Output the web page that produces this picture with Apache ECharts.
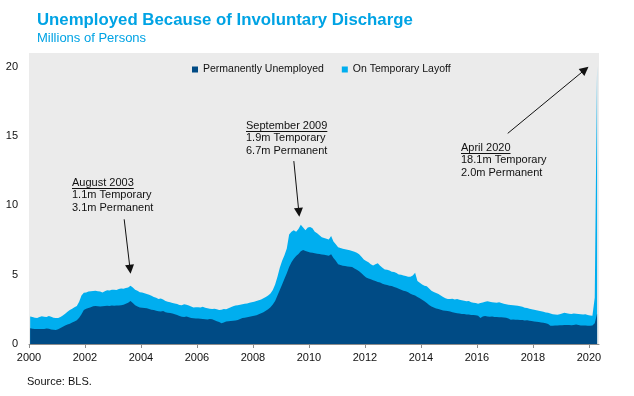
<!DOCTYPE html>
<html>
<head>
<meta charset="utf-8">
<script src="https://cdn.jsdelivr.net/npm/echarts@6/dist/echarts.min.js"></script>
<style>
html, body { margin: 0; padding: 0; background: #fff; }
#chart { width: 634px; height: 396px; }
</style>
</head>
<body>
<div id="chart"></div>
<script>
// monthly, Jan 2000 .. Apr 2020, millions of persons
var startYear = 2000;
var permanent = [
  1.14,1.10,1.09,1.08,1.08,1.09,1.08,1.12,1.10,1.05,1.02,1.01,
  1.07,1.15,1.25,1.33,1.40,1.46,1.55,1.62,1.72,1.90,2.15,2.45,
  2.55,2.60,2.66,2.72,2.75,2.72,2.70,2.73,2.74,2.76,2.75,2.77,
  2.76,2.77,2.78,2.80,2.84,2.90,2.98,3.10,2.95,2.80,2.70,2.64,
  2.62,2.60,2.58,2.52,2.48,2.45,2.40,2.36,2.34,2.38,2.30,2.25,
  2.23,2.20,2.15,2.10,2.02,1.96,1.95,1.98,1.93,1.88,1.85,1.84,
  1.84,1.82,1.80,1.78,1.76,1.80,1.78,1.72,1.65,1.58,1.50,1.55,
  1.62,1.64,1.66,1.68,1.70,1.74,1.80,1.88,1.90,1.93,1.97,2.00,
  2.04,2.08,2.14,2.22,2.30,2.40,2.50,2.66,2.85,3.10,3.50,3.90,
  4.30,4.70,5.10,5.55,5.90,6.15,6.35,6.50,6.70,6.78,6.72,6.65,
  6.60,6.58,6.55,6.52,6.50,6.46,6.44,6.40,6.37,6.48,6.20,6.00,
  5.75,5.70,5.65,5.62,5.60,5.58,5.55,5.45,5.35,5.25,5.10,4.95,
  4.80,4.72,4.68,4.60,4.55,4.48,4.44,4.35,4.30,4.26,4.20,4.18,
  4.12,4.06,3.98,3.92,3.84,3.80,3.74,3.62,3.56,3.50,3.40,3.30,
  3.20,3.08,2.96,2.81,2.71,2.64,2.57,2.52,2.47,2.42,2.40,2.38,
  2.35,2.30,2.26,2.22,2.20,2.16,2.17,2.13,2.12,2.10,2.09,2.07,
  2.04,1.88,1.98,2.02,1.99,1.97,1.99,1.95,1.95,1.93,1.93,1.92,
  1.89,1.84,1.75,1.76,1.75,1.75,1.73,1.73,1.70,1.71,1.68,1.66,
  1.62,1.60,1.58,1.55,1.53,1.50,1.45,1.31,1.31,1.33,1.33,1.36,
  1.36,1.38,1.37,1.38,1.36,1.38,1.40,1.38,1.34,1.33,1.34,1.32,
  1.31,1.33,1.50,2.20
];
var temporary = [
  0.85,0.85,0.81,0.80,0.87,0.91,0.88,0.82,0.92,0.92,0.88,0.86,
  0.80,0.80,0.81,0.85,0.92,0.99,1.00,1.03,1.03,1.15,1.35,1.25,
  1.17,1.18,1.14,1.11,1.09,1.08,1.08,0.99,1.06,1.12,1.11,1.15,
  1.16,1.13,1.19,1.20,1.14,1.14,1.10,1.10,1.13,1.12,1.15,1.10,
  1.10,1.06,1.02,1.03,1.00,0.95,0.93,0.89,0.94,0.84,0.80,0.80,
  0.79,0.76,0.77,0.78,0.80,0.84,0.91,0.86,0.85,0.82,0.79,0.82,
  0.82,0.82,0.88,0.84,0.82,0.75,0.74,0.83,0.85,0.88,0.98,0.97,
  0.88,0.94,1.00,1.04,1.08,1.06,1.04,0.99,1.00,1.00,1.00,1.02,
  1.01,1.02,1.02,1.00,1.00,1.00,1.00,0.99,1.05,1.20,1.35,1.60,
  1.70,1.70,1.80,2.35,2.20,2.05,1.75,1.80,1.90,1.62,1.48,1.75,
  1.85,1.77,1.55,1.48,1.35,1.24,1.21,1.20,1.18,1.32,1.20,1.20,
  1.23,1.22,1.23,1.22,1.20,1.18,1.17,1.20,1.23,1.22,1.20,1.15,
  1.19,1.18,1.07,1.07,1.20,1.34,1.21,1.15,1.08,1.09,1.10,1.04,
  1.08,1.06,1.04,1.08,1.11,1.10,1.11,1.23,1.39,1.64,1.15,1.12,
  1.10,1.12,1.21,1.19,1.14,1.11,1.11,1.08,1.03,0.98,0.90,0.87,
  0.89,0.96,0.96,1.03,1.00,0.99,0.95,0.95,0.98,0.92,0.89,0.88,
  0.87,1.07,1.02,1.03,1.09,1.08,1.03,1.05,1.03,1.09,1.02,0.98,
  0.97,1.00,1.07,1.04,1.03,1.01,0.99,0.95,0.92,0.88,0.87,0.84,
  0.85,0.84,0.82,0.81,0.79,0.78,0.80,0.89,0.84,0.79,0.78,0.79,
  0.84,0.88,0.85,0.80,0.80,0.82,0.78,0.78,0.80,0.79,0.80,0.78,
  0.75,0.71,1.85,17.90
];
var seriesNames = ['Permanently Unemployed', 'On Temporary Layoff'];
var yearTicks = [2000, 2002, 2004, 2006, 2008, 2010, 2012, 2014, 2016, 2018, 2020];
var valueTicks = [0, 5, 10, 15, 20];

var notes = [
  { head: 'August 2003', lines: ['1.1m Temporary', '3.1m Permanent'] },
  { head: 'September 2009', lines: ['1.9m Temporary', '6.7m Permanent'] },
  { head: 'April 2020', lines: ['18.1m Temporary', '2.0m Permanent'] }
];

var darkBlue = '#004B85';
var lightBlue = '#00AEEF';
var titleBlue = '#00A3E4';
var fontName = 'Liberation Sans';

function monthX(i) {
  return startYear + (i + 0.5) / 12;
}

// permanent at the bottom, temporary stacked on top of it
var permPoints = [], stackPoints = [];
for (var i = 0; i < permanent.length; i++) {
  permPoints.push([monthX(i), permanent[i]]);
  stackPoints.push([monthX(i), +(permanent[i] + temporary[i]).toFixed(2)]);
}

var measureCtx = document.createElement('canvas').getContext('2d');
function textWidth(str, size) {
  measureCtx.font = size + 'px "' + fontName + '"';
  return measureCtx.measureText(str).width;
}

// text block with underlined heading
function noteBlock(note, x, y) {
  var els = [];
  var lh = 12.3;
  var all = [note.head].concat(note.lines);
  for (var i = 0; i < all.length; i++) {
    els.push({
      type: 'text', x: x, y: y + i * lh, silent: true,
      style: { text: all[i], fill: '#111', font: '11px "' + fontName + '"',
               textAlign: 'left', textVerticalAlign: 'middle' }
    });
  }
  var uy = Math.round(y + 4.5) + 0.5;
  els.push({
    type: 'line', silent: true,
    shape: { x1: x, y1: uy, x2: x + textWidth(note.head, 11), y2: uy },
    style: { stroke: '#111', lineWidth: 1 }
  });
  return els;
}

var graphics = [
  { type: 'text', x: 37, y: 20, silent: true,
    style: { text: 'Unemployed Because of Involuntary Discharge', fill: titleBlue,
             font: 'bold 16.8px "' + fontName + '"', textVerticalAlign: 'middle' } },
  { type: 'text', x: 37, y: 38, silent: true,
    style: { text: 'Millions of Persons', fill: titleBlue,
             font: '13px "' + fontName + '"', textVerticalAlign: 'middle' } },
  { type: 'text', x: 27, y: 382, silent: true,
    style: { text: 'Source: BLS.', fill: '#111',
             font: '11px "' + fontName + '"', textVerticalAlign: 'middle' } }
]
  .concat(noteBlock(notes[0], 72, 183))
  .concat(noteBlock(notes[1], 246, 126))
  .concat(noteBlock(notes[2], 461, 148));

var chart = echarts.init(document.getElementById('chart'), null, { renderer: 'canvas' });

var option = {
  animation: false,
  textStyle: { fontFamily: fontName },
  grid: {
    left: 29, right: 35, top: 53, bottom: 52,
    show: true, backgroundColor: '#EBEBEB', borderWidth: 0
  },
  legend: {
    left: 187, top: 59,
    itemWidth: 6, itemHeight: 6, itemGap: 18, icon: 'rect',
    textStyle: { fontSize: 10.5, color: '#111', fontFamily: fontName },
    data: seriesNames
  },
  xAxis: {
    type: 'value', min: 2000, max: 2020.36,
    axisLine: { show: true, lineStyle: { color: '#8C8C8C', width: 1 } },
    axisTick: { show: true, length: 4, lineStyle: { color: '#8C8C8C' }, customValues: yearTicks },
    axisLabel: { fontSize: 11, color: '#111', margin: 8, customValues: yearTicks,
                 formatter: function (v) { return String(Math.round(v)); } },
    splitLine: { show: false }
  },
  yAxis: {
    type: 'value', min: 0, max: 21,
    axisLine: { show: false },
    axisTick: { show: false },
    axisLabel: { fontSize: 11, color: '#111', margin: 11, customValues: valueTicks },
    splitLine: { show: false }
  },
  series: [
    {
      name: seriesNames[1], type: 'line', z: 1,
      data: stackPoints, showSymbol: false, symbol: 'none',
      lineStyle: { width: 0 }, itemStyle: { color: lightBlue },
      areaStyle: { color: lightBlue, opacity: 1, origin: 'start' }
    },
    {
      name: seriesNames[0], type: 'line', z: 2,
      data: permPoints, showSymbol: false, symbol: 'none',
      lineStyle: { width: 0 }, itemStyle: { color: darkBlue },
      areaStyle: { color: darkBlue, opacity: 1, origin: 'start' },
      markLine: {
        silent: true, animation: false,
        symbol: ['none', 'triangle'], symbolSize: 9,
        label: { show: false },
        lineStyle: { color: '#111', width: 1, type: 'solid' },
        emphasis: { disabled: true },
        data: [
          [{ coord: [2003.40, 9.0] }, { coord: [2003.61, 5.4] }],
          [{ coord: [2009.46, 13.2] }, { coord: [2009.64, 9.5] }],
          [{ coord: [2017.10, 15.2] }, { coord: [2019.86, 19.8] }]
        ]
      }
    }
  ],
  graphic: graphics
};

chart.setOption(option);
</script>
</body>
</html>
